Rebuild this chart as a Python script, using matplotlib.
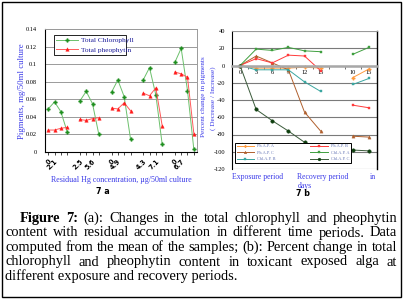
import numpy as np
import matplotlib
matplotlib.use("Agg")
import matplotlib.pyplot as plt
from matplotlib.patches import Rectangle

# ---------------- data: panel 7a ----------------
chl_groups = [[0.049, 0.057, 0.046, 0.023],
              [0.058, 0.069, 0.055, 0.020],
              [0.068, 0.082, 0.063, 0.015],
              [0.082, 0.096, 0.065, 0.009],
              [0.102, 0.118, 0.070, 0.003]]
pheo_groups = [[0.025, 0.025, 0.027, 0.028],
               [0.037, 0.036, 0.038, 0.039],
               [0.050, 0.049, 0.056, 0.047],
               [0.067, 0.064, 0.073, 0.030],
               [0.091, 0.089, 0.085, 0.021]]
hg_labels = [["0", "2.1", "", ""],
             ["2.5", "", "5.6", ""],
             ["0", "4.9", "", ""],
             ["4.3", "", "7.1", ""],
             ["0", "6.7", "", ""]]
yticks_a = [0, 0.02, 0.04, 0.06, 0.08, 0.1, 0.12, 0.14]

# ---------------- data: panel 7b ----------------
day_labels = ["0", "3", "6", "9", "12", "15", "", "10", "15"]
nan = np.nan
ph_a = [0, -3, -3, -3, -2, -3, nan, -14, -4]
ph_b = [0, 8, 3, 12, 11, -6, nan, -46, -49]
ph_c = [0, 11, 3, -5, -54, -76, nan, -82, -83]
chl_a = [0, 19, 17.5, 21, 17, 16, nan, 13, 21]
chl_b = [0, -5, -5, -5, -19, -30, nan, -22, -15]
chl_c = [0, -51, -64, -76, -89, -97, nan, -98, -99]
yticks_b = [40, 20, 0, -20, -40, -60, -80, -100, -120]

caption = [
    [("Figure", "bold"), ("7:", "bold"), ("(a):", "normal"), ("Changes", "normal"), ("in", "normal"),
     ("the", "normal"), ("total", "normal"), ("chlorophyll", "normal"), ("and", "normal"), ("pheophytin", "normal")],
    "content with residual accumulation in different time periods. Data",
    "computed from the mean of the samples; (b): Percent change in total",
    "chlorophyll and pheophytin content in toxicant exposed alga at",
    "different exposure and recovery periods.",
]

W, H = 403, 299
fig = plt.figure(figsize=(W / 100, H / 100), dpi=100)
fig.patch.set_facecolor("white")


def fx(x):
    return x / W


def fy(y):
    return 1 - y / H


SERIF = "Liberation Serif"
BLUE = "#3a3ae8"

# ---------------- panel 7a ----------------
axa = fig.add_axes([fx(45), fy(152), (197 - 45) / W, (152 - 29) / H])
green_line, green_mk = "#6cc06c", "#1f8f1f"
red_line, red_mk = "#ff5a5a", "#ff1a1a"
xt, xl = [], []
for g in range(len(chl_groups)):
    xs = [g * 5 + i for i in range(len(chl_groups[g]))]
    axa.plot(xs, chl_groups[g], color=green_line, lw=0.7, marker="P", ms=2.6,
             mfc=green_mk, mec=green_mk, mew=0.3, label="Total Chlorophyll" if g == 0 else None)
    axa.plot(xs, pheo_groups[g], color=red_line, lw=0.7, marker="^", ms=2.5,
             mfc=red_mk, mec=red_mk, mew=0.3, label="Total pheophytin" if g == 0 else None)
    xt += xs
    xl += hg_labels[g]
axa.set_xlim(-0.5, 23.5)
axa.set_ylim(0, 0.14)
axa.set_yticks(yticks_a)
axa.set_yticklabels(["%g" % v for v in yticks_a], family=SERIF, fontsize=4.6)
axa.set_xticks(xt)
axa.set_xticklabels(xl, rotation=45, ha="right", va="top", rotation_mode="anchor",
                    fontsize=4.8, fontweight="bold")
axa.tick_params(axis="x", length=2, width=0.5, pad=2.5)
axa.tick_params(axis="y", length=0, pad=6)
axa.grid(axis="y", color="#9a9a9a", lw=0.7)
axa.set_axisbelow(True)
for s in ["left", "bottom"]:
    axa.spines[s].set_color("black")
    axa.spines[s].set_linewidth(0.8)
for s in ["right", "top"]:
    axa.spines[s].set_color("#9a9a9a")
    axa.spines[s].set_linewidth(0.7)
leg = axa.legend(loc="lower left", bbox_to_anchor=(0.033, 0.756, 0.526, 0.187), mode="expand",
                 fancybox=False, edgecolor="black", framealpha=1,
                 prop=dict(family=SERIF, size=5.3), labelcolor="#1a1a99",
                 handlelength=3.0, borderpad=0.35, labelspacing=0.45, handletextpad=0.4)
leg.get_frame().set_linewidth(0.6)

# ---------------- panel 7b ----------------
axb = fig.add_axes([fx(232), fy(169), (377 - 232) / W, (169 - 31) / H])
xb = np.arange(len(day_labels))
series_b = [
    ("Ph.A.P. A", ph_a, "#ff9a3c", "P", 2.4),
    ("Ph.A.P. C", ph_c, "#b0602e", "^", 2.3),
    ("Chl.A.P. B", chl_b, "#3aa6a0", "s", 1.9),
    ("Ph.A.P. B", ph_b, "#ff3a3a", "s", 2.0),
    ("Chl.A.P. A", chl_a, "#3f9f3f", "s", 2.0),
    ("Chl.A.P. C", chl_c, "#3a5a3a", "o", 2.5),
]
mk_colors = {"Chl.A.P. C": "#0f3f0f"}
for name, vals, col, mk, ms in series_b:
    mc = mk_colors.get(name, col)
    axb.plot(xb, vals, color=col, lw=0.7, marker=mk, ms=ms, mfc=mc, mec=mc, mew=0.3, label=name)
axb.set_xlim(-0.5, 8.5)
axb.set_ylim(-120, 40)
axb.set_yticks(yticks_b)
axb.set_yticklabels([str(v) for v in yticks_b], family=SERIF, fontsize=4.6)
axb.tick_params(axis="y", length=0, pad=5)
axb.grid(axis="y", color="#7a7a7a", lw=0.8)
axb.set_axisbelow(True)
axb.spines["bottom"].set_position(("data", 0))
axb.spines["bottom"].set_color("#a8a8a8")
axb.spines["bottom"].set_linewidth(1.8)
axb.set_xticks(xb)
axb.set_xticklabels(day_labels, family=SERIF, fontsize=4.6)
axb.set_xticks(xb[:-1] + 0.5, minor=True)
axb.tick_params(axis="x", which="major", length=0, pad=3)
axb.tick_params(axis="x", which="minor", length=2, width=0.6, color="#555555")
axb.spines["left"].set_color("black")
axb.spines["left"].set_linewidth(0.8)
axb.spines["right"].set_color("black")
axb.spines["right"].set_linewidth(1.0)
axb.spines["top"].set_color("#9a9a9a")
axb.spines["top"].set_linewidth(0.7)
legb = axb.legend(loc="lower left", bbox_to_anchor=(0.007, 0.029, 0.826, 0.145), mode="expand",
                  ncol=2, fancybox=False, edgecolor="black", framealpha=1,
                  prop=dict(family=SERIF, size=3.2), labelcolor="#6a7ab8",
                  handlelength=4.0, borderpad=0.3, labelspacing=0.55, handletextpad=0.6,
                  columnspacing=1.0, markerscale=0.8)
legb.get_frame().set_linewidth(0.7)

# ---------------- axis titles ----------------
fig.text(fx(22), fy(91), "Pigments, mg/50ml culture", rotation=90, ha="center", va="center",
         color=BLUE, family=SERIF, fontsize=6.3)
fig.text(fx(121), fy(180), "Residual Hg concentration, \u00b5g/50ml culture", ha="center", va="center",
         color=BLUE, family=SERIF, fontsize=5.8)
fig.text(fx(103), fy(192), "7 a", ha="center", va="center", fontweight="bold", fontsize=5.8)
fig.text(fx(203), fy(97), "Percent change in pigments", rotation=90, ha="center", va="center",
         color=BLUE, family=SERIF, fontsize=5.2)
fig.text(fx(213), fy(98), "( Decrease / Increase)", rotation=90, ha="center", va="center",
         color=BLUE, family=SERIF, fontsize=5.2)
fig.text(fx(258), fy(177), "Exposure period", ha="center", va="center", color=BLUE, family=SERIF, fontsize=5.6)
fig.text(fx(323), fy(177), "Recovery period", ha="center", va="center", color=BLUE, family=SERIF, fontsize=5.6)
fig.text(fx(373), fy(177), "in", ha="center", va="center", color=BLUE, family=SERIF, fontsize=5.6)
fig.text(fx(305), fy(186), "days", ha="center", va="center", color=BLUE, family=SERIF, fontsize=5.6)
fig.text(fx(303), fy(193), "7 b", ha="center", va="center", fontweight="bold", fontsize=5.8)

# ---------------- caption (justified) ----------------
renderer = fig.canvas.get_renderer()


def measure(s, weight="normal", size=10.0):
    t = fig.text(0, 0, s, family=SERIF, fontsize=size, fontweight=weight)
    w = t.get_window_extent(renderer).width
    t.remove()
    return w


fs = 10.0 * (238 - 5) / measure(caption[-1])
x_starts = [20, 5, 5, 5, 5]
x_end = 397
baselines = [222, 236.5, 251, 265.5, 280]
for i, line in enumerate(caption):
    words = line if isinstance(line, list) else [(w, "normal") for w in line.split(" ")]
    if i == len(caption) - 1:
        fig.text(fx(x_starts[i]), fy(baselines[i]), line, family=SERIF, fontsize=fs, va="baseline")
        continue
    widths = [measure(w, wt, fs) for w, wt in words]
    gap = (x_end - x_starts[i] - sum(widths)) / (len(words) - 1)
    x = x_starts[i]
    for (w, wt), wd in zip(words, widths):
        fig.text(fx(x), fy(baselines[i]), w, family=SERIF, fontsize=fs, fontweight=wt, va="baseline")
        x += wd + gap

fig.add_artist(Rectangle((fx(2), fy(297)), 399 / W, 295 / H, transform=fig.transFigure,
                         fill=False, lw=1.0, ec="black"))

fig.savefig("out.png", dpi=100)
